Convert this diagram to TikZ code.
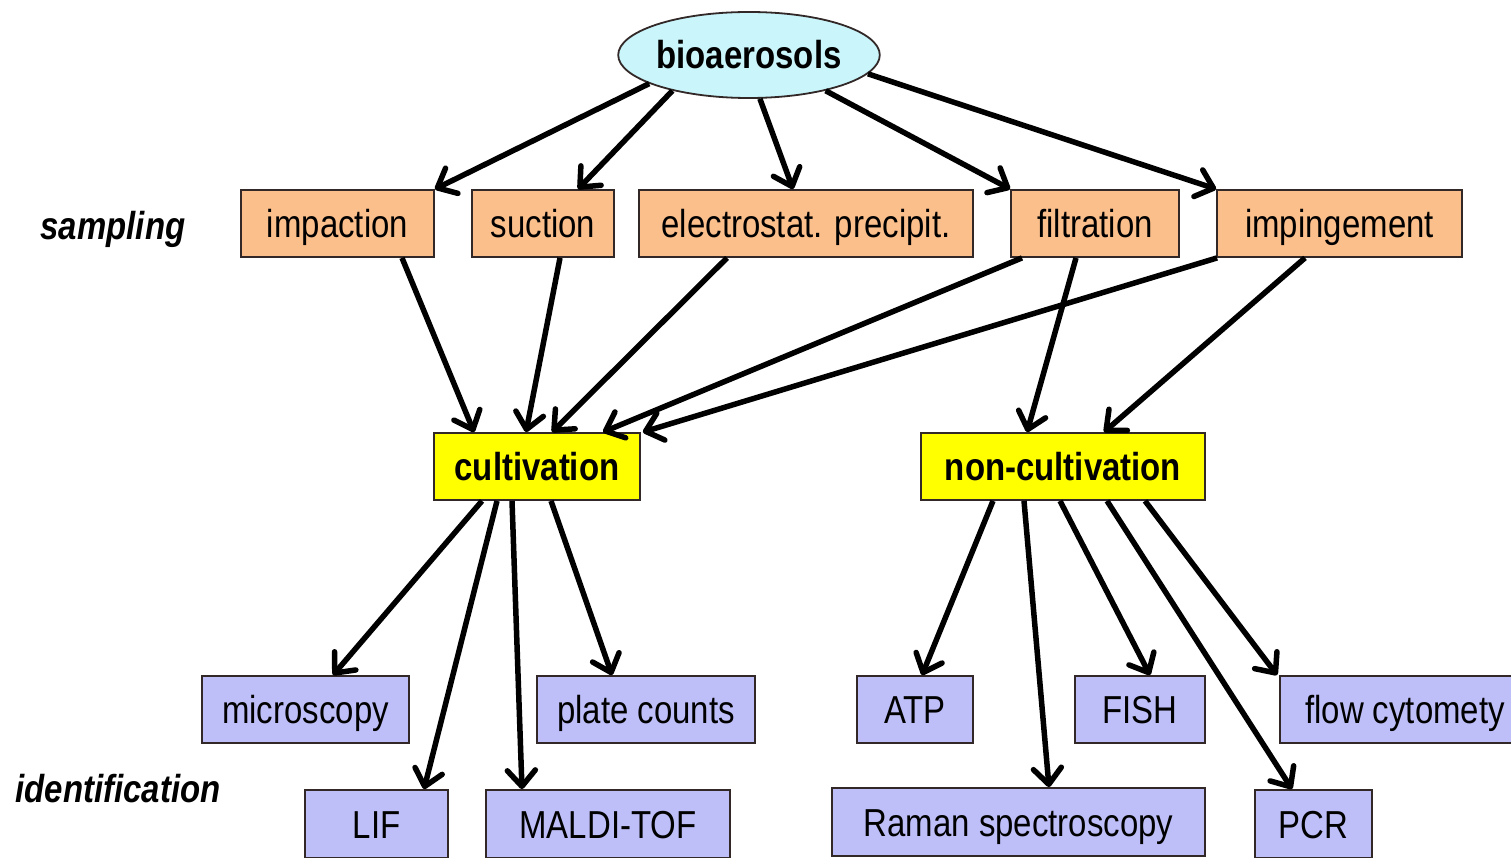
\documentclass[tikz,border=0pt]{standalone}
\usepackage{fontspec}
\setmainfont{Liberation Sans}[FakeStretch=0.845]
\usetikzlibrary{arrows.meta,shapes.geometric}
\definecolor{sampfill}{RGB}{251,191,140}
\definecolor{bioFill}{RGB}{202,245,250}
\definecolor{identfill}{RGB}{190,190,248}
\definecolor{cultfill}{RGB}{255,255,0}
\definecolor{edge}{RGB}{50,40,40}
\begin{document}
\begin{tikzpicture}[x=1pt,y=-1pt,
  box/.style={draw=edge,line width=1.8pt,rectangle,inner sep=0pt,minimum height=67pt,
    text height=28pt,text depth=0pt,
    font=\fontsize{39}{45}\selectfont,text=black},
  sampbox/.style={box,fill=sampfill},
  cultbox/.style={box,fill=cultfill,font=\fontsize{39}{45}\selectfont\bfseries},
  identbox/.style={box,fill=identfill},
  sidelab/.style={font=\fontsize{39}{45}\selectfont\bfseries\itshape,inner sep=0pt,text height=28pt,text depth=0pt},
  arr/.style={line width=5.5pt,-{Straight Barb[length=16pt,width=28pt,round]}}]
\useasboundingbox (0,0) rectangle (1511,858);
% top
\node[ellipse,draw=edge,line width=1.8pt,fill=bioFill,minimum width=244pt,minimum height=86pt,inner sep=0pt,
  text height=28pt,text depth=0pt,
  font=\fontsize{39}{45}\selectfont\bfseries] (bio) at (749,55) {bioaerosols};
% sampling
\node[sampbox,minimum width=193pt] (imp) at (337.5,223.5) {impaction};
\node[sampbox,minimum width=142pt] (suc) at (543,223.5) {suction};
\node[sampbox,minimum width=334pt] (ele) at (806,223.5) {electrostat. precipit.};
\node[sampbox,minimum width=168pt] (fil) at (1095,223.5) {filtration};
\node[sampbox,minimum width=245pt] (ipg) at (1339.5,223.5) {impingement};
% middle
\node[cultbox,minimum width=206pt] (cult) at (537,466.5) {cultivation};
\node[cultbox,minimum width=284pt] (ncult) at (1063,466.5) {non-cultivation};
% identification
\node[identbox,minimum width=207pt] (mic) at (305.5,709.5) {microscopy};
\node[identbox,minimum width=218pt] (pla) at (646,709.5) {plate counts};
\node[identbox,minimum width=143pt,minimum height=68pt] (lif) at (376.5,824) {LIF};
\node[identbox,minimum width=244pt,minimum height=68pt] (mal) at (608,824) {MALDI-TOF};
\node[identbox,minimum width=116pt] (atp) at (915,709.5) {ATP};
\node[identbox,minimum width=130pt] (fish) at (1140,709.5) {FISH};
\node[identbox,minimum width=250pt] (flow) at (1405,709.5) {flow cytomety};
\node[identbox,minimum width=373pt,minimum height=68pt] (ram) at (1018.5,822) {Raman spectroscopy};
\node[identbox,minimum width=117pt,minimum height=68pt] (pcr) at (1313.5,824) {PCR};
% side labels
\node[sidelab] (lsamp) at (113,226) {sampling};
\node[sidelab] (lident) at (118,788) {identification};
% arrows from bioaerosols
\draw[arr] (bio.196) -- (imp.north east);
\draw[arr] (bio.205) -- ([xshift=35pt]suc.north);
\draw[arr] (bio.284) -- ([xshift=-13pt]ele.north);
\draw[arr] (bio.335) -- (fil.north west);
\draw[arr] (bio.351) -- (ipg.north west);
% sampling to cultivation
\draw[arr] ([xshift=64.5pt]imp.south) -- ([xshift=-63pt]cult.north);
\draw[arr] ([xshift=17pt]suc.south) -- ([xshift=-11pt]cult.north);
\draw[arr] ([xshift=-79pt]ele.south) -- ([xshift=15pt]cult.north);
\draw[arr] ([xshift=-73pt]fil.south) -- ([xshift=66pt]cult.north);
\draw[arr] ([xshift=1pt]ipg.south west) -- ([xshift=2pt]cult.north east);
% sampling to non-cultivation
\draw[arr] ([xshift=-19pt]fil.south) -- ([xshift=-36pt]ncult.north);
\draw[arr] ([xshift=-34.5pt]ipg.south) -- ([xshift=41pt]ncult.north);
% cultivation to identification
\draw[arr] ([xshift=-55pt]cult.south) -- ([xshift=27.5pt]mic.north);
\draw[arr] ([xshift=-40pt]cult.south) -- ([xshift=47.5pt]lif.north);
\draw[arr] ([xshift=-25pt]cult.south) -- ([xshift=-86pt]mal.north);
\draw[arr] ([xshift=14pt]cult.south) -- ([xshift=-34pt]pla.north);
% non-cultivation to identification
\draw[arr] ([xshift=-70pt]ncult.south) -- ([xshift=7pt]atp.north);
\draw[arr] ([xshift=-39pt]ncult.south) -- ([xshift=30.5pt]ram.north);
\draw[arr] ([xshift=-3pt]ncult.south) -- ([xshift=10pt]fish.north);
\draw[arr] ([xshift=44pt]ncult.south) -- ([xshift=-21.5pt]pcr.north);
\draw[arr] ([xshift=82pt]ncult.south) -- ([xshift=-2pt]flow.north west);
\end{tikzpicture}
\end{document}
